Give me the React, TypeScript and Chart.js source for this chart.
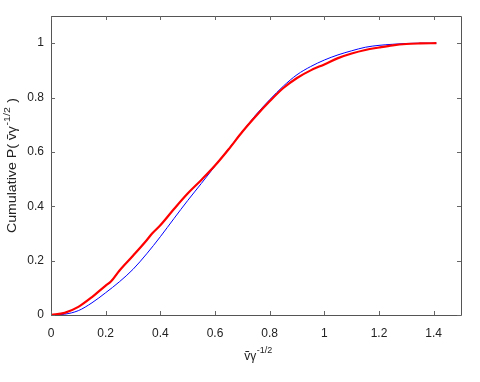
import React, { useEffect, useRef } from "react";
import { Chart, registerables } from "chart.js";

Chart.register(...registerables);

const blueX = [0, 0.05, 0.1, 0.15, 0.2, 0.25, 0.3, 0.35, 0.4, 0.45, 0.5, 0.55, 0.6, 0.65, 0.7, 0.75, 0.8, 0.85, 0.9, 0.95, 1.0, 1.05, 1.1, 1.15, 1.2, 1.25, 1.3, 1.35, 1.41];
const blueY = [0, 0.003, 0.016, 0.045, 0.082, 0.122, 0.168, 0.225, 0.288, 0.355, 0.421, 0.484, 0.548, 0.612, 0.675, 0.737, 0.792, 0.842, 0.884, 0.914, 0.938, 0.957, 0.972, 0.985, 0.992, 0.996, 0.999, 1, 1];

const redX = [0, 0.05, 0.1, 0.15, 0.2, 0.22, 0.25, 0.3, 0.35, 0.37, 0.4, 0.45, 0.5, 0.55, 0.6, 0.65, 0.7, 0.75, 0.8, 0.85, 0.9, 0.95, 1.0, 1.05, 1.1, 1.15, 1.2, 1.25, 1.3, 1.35, 1.41];
const redY = [0, 0.008, 0.03, 0.066, 0.108, 0.124, 0.163, 0.218, 0.275, 0.3, 0.33, 0.39, 0.447, 0.497, 0.55, 0.61, 0.674, 0.732, 0.786, 0.835, 0.872, 0.9, 0.922, 0.945, 0.962, 0.975, 0.984, 0.992, 0.997, 0.999, 1];

const xTicks = [0, 0.2, 0.4, 0.6, 0.8, 1, 1.2, 1.4];
const yTicks = [0, 0.2, 0.4, 0.6, 0.8, 1];

const FONT = "'Liberation Sans', Arial, sans-serif";

const framePlugin = {
  id: "frame",
  afterDraw(chart: any) {
    const { ctx, chartArea } = chart;
    const { left, right, top, bottom } = chartArea;
    const xs = chart.scales.x;
    const ys = chart.scales.y;
    ctx.save();
    ctx.strokeStyle = "#555";
    ctx.lineWidth = 1;
    ctx.beginPath();
    ctx.rect(Math.round(left) + 0.5, Math.round(top) + 0.5, Math.round(right - left), Math.round(bottom - top));
    ctx.stroke();
    ctx.strokeStyle = "#666";
    ctx.beginPath();
    const tl = 4;
    xTicks.forEach((v) => {
      const px = Math.round(xs.getPixelForValue(v)) + 0.5;
      ctx.moveTo(px, bottom);
      ctx.lineTo(px, bottom - tl);
      ctx.moveTo(px, top);
      ctx.lineTo(px, top + tl);
    });
    yTicks.forEach((v) => {
      const py = Math.round(ys.getPixelForValue(v)) + 0.5;
      ctx.moveTo(left, py);
      ctx.lineTo(left + tl, py);
      ctx.moveTo(right, py);
      ctx.lineTo(right - tl, py);
    });
    ctx.stroke();

    // Axis titles
    ctx.fillStyle = "#222";
    const base = "12px " + FONT;
    const sup = "9px " + FONT;
    // x title
    ctx.font = base;
    const xt1 = "ṽγ";
    const xs1 = "-1/2";
    const w1 = ctx.measureText(xt1).width;
    ctx.font = sup;
    const w2 = ctx.measureText(xs1).width;
    const cx = (left + right) / 2 + 2;
    const sx = cx - (w1 + w2) / 2;
    ctx.textBaseline = "alphabetic";
    ctx.textAlign = "left";
    ctx.font = base;
    ctx.fillText(xt1, sx, 360);
    ctx.font = sup;
    ctx.fillText(xs1, sx + w1 + 0.5, 353);

    // y title
    ctx.save();
    ctx.translate(16, (top + bottom) / 2);
    ctx.rotate(-Math.PI / 2);
    ctx.scale(1.18, 1);
    const yt1 = "Cumulative P( ṽγ";
    const ys1 = "-1/2";
    const yt2 = " )";
    ctx.font = base;
    const a = ctx.measureText(yt1).width;
    const c = ctx.measureText(yt2).width;
    ctx.font = sup;
    const b = ctx.measureText(ys1).width;
    const total = a + b + 1 + c;
    const px = -total / 2;
    ctx.font = base;
    ctx.fillText(yt1, px, 0);
    ctx.font = sup;
    ctx.fillText(ys1, px + a + 0.5, -6);
    ctx.font = base;
    ctx.fillText(yt2, px + a + b + 1, 0);
    ctx.restore();

    ctx.restore();
  },
};

export default function App() {
  const ref = useRef<HTMLCanvasElement | null>(null);
  useEffect(() => {
    if (!ref.current) return;
    const chart = new Chart(ref.current, {
      type: "scatter",
      data: {
        datasets: [
          {
            label: "red",
            data: redX.map((x, i) => ({ x, y: redY[i] })),
            showLine: true,
            borderColor: "#ff0000",
            borderWidth: 2.2,
            pointRadius: 0,
            cubicInterpolationMode: "monotone",
            order: 0,
          },
          {
            label: "blue",
            data: blueX.map((x, i) => ({ x, y: blueY[i] })),
            showLine: true,
            borderColor: "#0000ff",
            borderWidth: 1,
            pointRadius: 0,
            cubicInterpolationMode: "monotone",
            order: 1,
          },
        ],
      },
      options: {
        responsive: false,
        animation: false,
        layout: { padding: { top: 16, right: 19, left: 0, bottom: 0 } },
        plugins: { legend: { display: false }, tooltip: { enabled: false } },
        scales: {
          x: {
            type: "linear",
            min: 0,
            max: 1.5,
            border: { display: false },
            grid: { display: false, drawTicks: false },
            afterBuildTicks: (s: any) => {
              s.ticks = xTicks.map((v) => ({ value: v }));
            },
            afterFit: (s: any) => {
              s.height = 67;
            },
            ticks: {
              padding: 11,
              color: "#222",
              font: { family: FONT, size: 12 },
              callback: (v: any) => String(Number(Number(v).toFixed(1))),
            },
          },
          y: {
            type: "linear",
            min: 0,
            max: 1.1,
            border: { display: false },
            grid: { display: false, drawTicks: false },
            afterBuildTicks: (s: any) => {
              s.ticks = yTicks.map((v) => ({ value: v }));
            },
            afterFit: (s: any) => {
              s.width = 51;
            },
            ticks: {
              padding: 7,
              color: "#222",
              font: { family: FONT, size: 12 },
              callback: (v: any) => String(Number(Number(v).toFixed(1))),
            },
          },
        },
      },
      plugins: [framePlugin],
    } as any);
    return () => chart.destroy();
  }, []);
  return (
    <div style={{ position: "absolute", left: 0, top: 0, width: 480, height: 382, background: "#fff" }}>
      <canvas ref={ref} width={480} height={382} style={{ width: 480, height: 382 }} />
    </div>
  );
}
